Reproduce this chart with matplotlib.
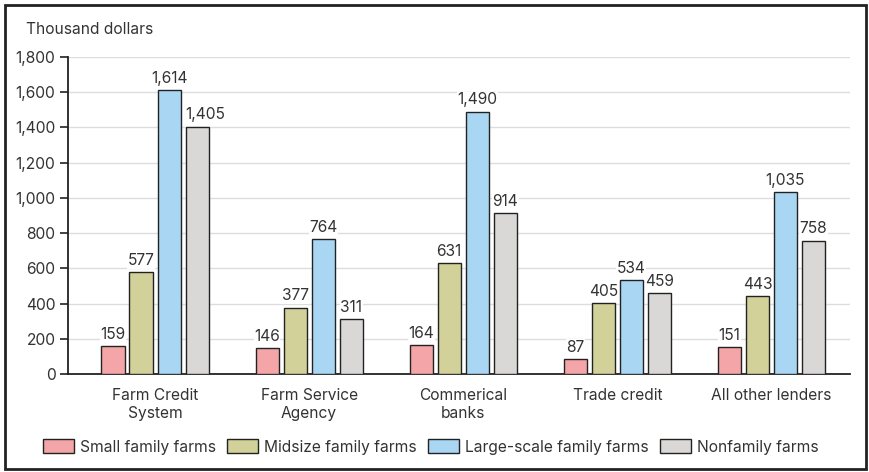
import numpy as np
import matplotlib.pyplot as plt
from matplotlib.patches import Rectangle

# Data
lenders = ["Farm Credit\nSystem", "Farm Service\nAgency", "Commerical\nbanks",
           "Trade credit", "All other lenders"]
series_names = ["Small family farms", "Midsize family farms",
                "Large-scale family farms", "Nonfamily farms"]
small = [159, 146, 164, 87, 151]
midsize = [577, 377, 631, 405, 443]
large = [1614, 764, 1490, 534, 1035]
nonfamily = [1405, 311, 914, 459, 758]
yticks = [0, 200, 400, 600, 800, 1000, 1200, 1400, 1600, 1800]

colors = ["#F4A5A8", "#D2D199", "#A9D6F3", "#D9D8D6"]
text_color = "#333333"
fs = 11.2

plt.rcParams['font.family'] = ['Inter', 'DejaVu Sans']

fig = plt.figure(figsize=(8.7, 4.72), dpi=100)
ax = fig.add_axes([68 / 870, 1 - 374 / 472, (850 - 68) / 870, (374 - 57) / 472])

x = np.arange(len(lenders))
width = 0.15
step = 0.182
all_series = [small, midsize, large, nonfamily]
for i, vals in enumerate(all_series):
    pos = x + (i - 1.5) * step
    bars = ax.bar(pos, vals, width, color=colors[i], edgecolor="#222222",
                  linewidth=1.0, label=series_names[i], zorder=3)
    for j, (b, v) in enumerate(zip(bars, vals)):
        # nudge the 1,405 label right so it clears the taller blue bar
        dx = 6 if (i == 3 and j == 0) else 0
        ax.annotate(f"{v:,}", (b.get_x() + b.get_width() / 2, v),
                    xytext=(dx, 3), textcoords="offset points", ha="center",
                    va="bottom", fontsize=fs, color=text_color, zorder=2.5,
                    bbox=dict(facecolor="white", edgecolor="none", pad=0.3))

ax.set_ylim(0, 1800)
ax.set_xlim(-0.565, 4.51)
ax.set_yticks(yticks)
ax.set_yticklabels([f"{t:,}" for t in yticks], fontsize=fs, color=text_color)
ax.set_xticks(x)
ax.set_xticklabels(lenders, fontsize=fs, color=text_color, linespacing=1.25)
ax.tick_params(axis="x", length=0, pad=10)
ax.tick_params(axis="y", length=6, width=1.2, color="#222222", pad=3)
ax.grid(axis="y", color="#DDDDDD", linewidth=1.0, zorder=0)
for s in ["top", "right"]:
    ax.spines[s].set_visible(False)
ax.spines["left"].set_linewidth(1.3)
ax.spines["bottom"].set_linewidth(1.3)
ax.spines["left"].set_color("#222222")
ax.spines["bottom"].set_color("#222222")

fig.text(26 / 870, 1 - 30 / 472, "Thousand dollars", fontsize=fs,
         color=text_color, va="center", ha="left")

leg = fig.legend(loc="center", bbox_to_anchor=(0.495, 1 - 447 / 472), ncol=4,
                 frameon=False, fontsize=fs, handlelength=2.0, handleheight=1.0,
                 handletextpad=0.35, columnspacing=0.75)
for t in leg.get_texts():
    t.set_color(text_color)

# outer frame
fig.patches.append(Rectangle((5 / 870, 3 / 472), 861 / 870, 464 / 472,
                             transform=fig.transFigure, fill=False,
                             edgecolor="#222222", linewidth=2.0))

fig.savefig("out.png", dpi=100)
